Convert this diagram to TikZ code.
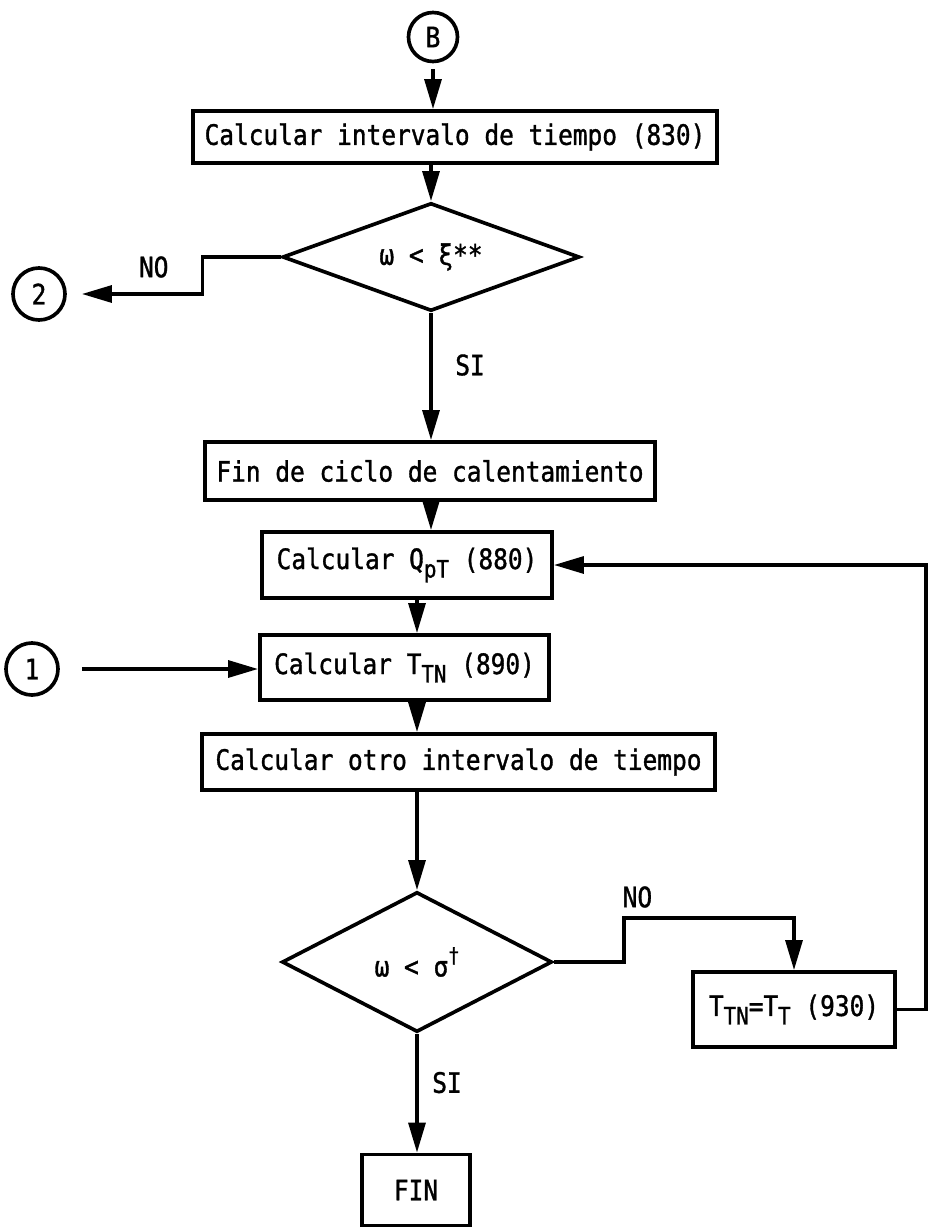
\documentclass[tikz,border=0pt]{standalone}
\usepackage{fontspec}
\newfontfamily\typew[FakeStretch=0.87, FakeBold=1.2]{DejaVu Sans Mono}
\usetikzlibrary{arrows.meta, shapes.geometric}
\newcommand{\lowsub}[1]{\raisebox{-0.55ex}{\fontsize{17}{17}\selectfont #1}}
\newcommand{\upsup}[1]{\raisebox{0.9ex}{\fontsize{15}{15}\selectfont #1}}

\begin{document}
\begin{tikzpicture}[x=0.025cm, y=-0.025cm, line width=2.6pt,
    >={Triangle[length=7.5mm, width=4.2mm]},
    every node/.style={font=\typew\fontsize{20}{22}\selectfont},
    procbox/.style={draw, rectangle, inner sep=0pt},
    decision/.style={draw, diamond, aspect=2.75, inner sep=0pt},
    connector/.style={draw, circle, minimum size=1.3cm, inner sep=0pt},
    lbl/.style={inner sep=0pt}]
  \useasboundingbox (0,0) rectangle (928,1228);

  % Main column
  \node[connector, minimum size=1.225cm] (cB) at (433,37) {B};
  \node[procbox, minimum width=13.1cm, minimum height=1.3cm] (calc1) at (455,137)
    {Calcular intervalo de tiempo (830)};
  \node[decision, minimum width=7.425cm, minimum height=2.7cm] (d1) at (431,257)
    {ω < ξ**};
  \node[procbox, minimum width=11.25cm, minimum height=1.45cm] (fin1) at (430,471)
    {Fin de ciclo de calentamiento};
  \node[procbox, minimum width=7.25cm, minimum height=1.65cm] (qpt) at (407,565)
    {Calcular Q\lowsub{pT} (880)};
  \node[procbox, minimum width=7.225cm, minimum height=1.625cm] (ttn) at (404.5,667.5)
    {Calcular T\lowsub{TN} (890)};
  \node[procbox, minimum width=12.825cm, minimum height=1.4cm] (calc2) at (458.5,762)
    {Calcular otro intervalo de tiempo};
  \node[decision, minimum width=6.75cm, minimum height=3.5cm] (d2) at (417,962)
    {ω < σ\upsup{†}};
  \node[procbox, minimum width=2.7cm, minimum height=1.775cm] (fin2) at (416,1190)
    {FIN};

  % Side nodes
  \node[procbox, minimum width=5.05cm, minimum height=1.875cm] (tt) at (794,1009.5)
    {T\lowsub{TN}=T\lowsub{T} (930)};
  \node[connector] (c2) at (39,294) {2};
  \node[connector] (c1) at (32,669) {1};

  % Flow arrows
  \draw[->, shorten <=0.15cm] (cB.south) -- (cB.south |- calc1.north);
  \draw[->] (calc1.south -| d1.north) -- (d1.north);
  \draw[->] (d1.south) -- node[lbl, pos=0.41, xshift=0.975cm] {SI}
    (d1.south |- fin1.north);
  \draw[->] (fin1.south -| d1.south) -- (d1.south |- qpt.north);
  \draw[->] (qpt.south -| d2.north) -- (d2.north |- ttn.north);
  \draw[->] (ttn.south -| d2.north) -- (d2.north |- calc2.north);
  \draw[->] (calc2.south -| d2.north) -- (d2.north);
  \draw[->] (d2.south) -- node[lbl, pos=0.41, xshift=0.75cm] {SI}
    (d2.south |- fin2.north);

  % Branches and loop
  \draw[->, shorten >=0.375cm] (d1.west) -- ++(-78,0)
    |- node[lbl, pos=0.68, yshift=0.675cm] {NO} (c2.east);
  \draw[->] (d2.east) -- ++(70,0) -- ++(0,-44)
    -| node[lbl, pos=0.04, yshift=0.525cm] {NO} (tt.north);
  \draw[->] (tt.east) -- ++(29,0) |- (qpt.east);
  \draw[->, shorten <=0.55cm] (c1.east) -- (c1.east -| ttn.west);
\end{tikzpicture}
\end{document}
